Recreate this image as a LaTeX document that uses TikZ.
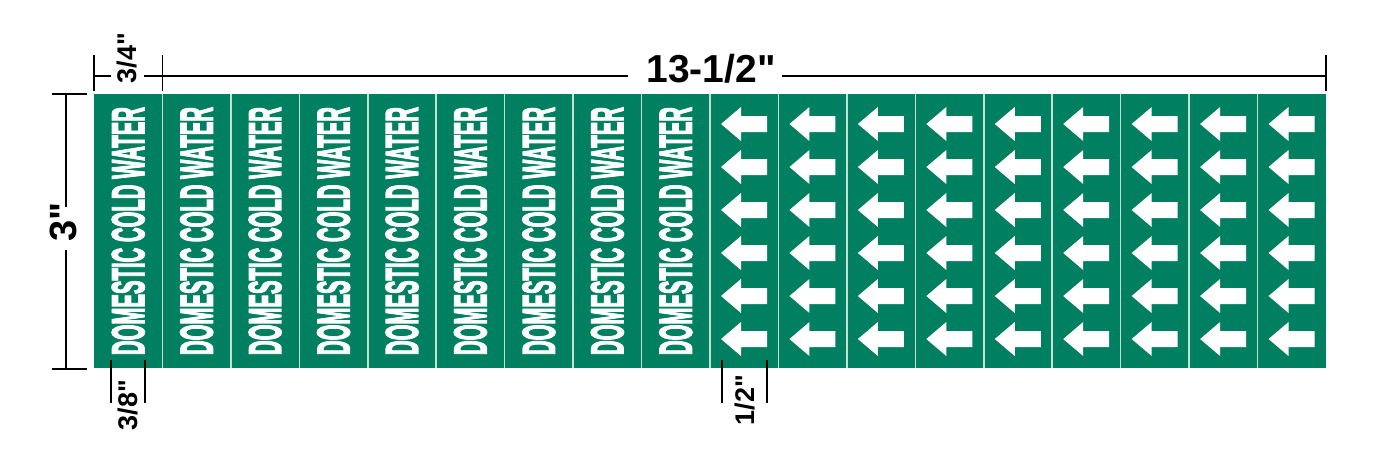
\documentclass[tikz,border=0pt]{standalone}
\usepackage{fontspec}
\setmainfont{Liberation Sans}
\newfontfamily\dimfont{Liberation Sans}
\newfontfamily\legendfont{Liberation Sans}[BoldFeatures={FakeBold=3.5}]
\newcommand{\inchmark}{\char34\relax}
\definecolor{pipegreen}{RGB}{0,128,96}
\definecolor{seam}{RGB}{196,224,213}
\begin{document}
\begin{tikzpicture}[x=1pt,y=-1pt,
  dim/.style={line width=1.8pt,black},
  dimtext/.style={inner sep=0pt,font=\dimfont\bfseries\fontsize{27}{27}\selectfont},
  legend/.style={inner sep=0pt,rotate=90,text=white},
  seamline/.style={seam,line width=1.5pt}]
\useasboundingbox (0,0) rectangle (1400,448);
% strip
\fill[pipegreen] (94,94) rectangle (1326,368);
\foreach \k in {1,...,17}{
  \draw[seamline] ({94+68.444*\k},94) -- ({94+68.444*\k},368);
}
% legend panels
\foreach \k in {0,...,8}{
  \node[legend] (legend\k) at ({94+68.444*(\k+0.5)},231)
    {\resizebox{248pt}{32pt}{\legendfont\bfseries DOMESTIC COLD WATER}};
}
% arrow panels
\foreach \k in {9,...,17}{
  \foreach \j in {0,...,5}{
    \pgfmathsetmacro{\xo}{94+68.444*\k}
    \pgfmathsetmacro{\yo}{124+43*\j}
    \fill[white] (\xo+11,\yo) -- (\xo+31,\yo-17) -- (\xo+31,\yo-8) -- (\xo+57,\yo-8)
      -- (\xo+57,\yo+8) -- (\xo+31,\yo+8) -- (\xo+31,\yo+17) -- cycle;
  }
}
% top dimension 13-1/2"
\node[inner sep=0pt,font=\dimfont\bfseries\fontsize{39}{39}\selectfont] (total) at (711,69) {13-1/2\inchmark};
\coordinate (tA) at (94,76);
\coordinate (tB) at (162.4,76);
\coordinate (tC) at (1326,76);
\draw[dim] (94,55) -- (94,91);
\draw[dim] (162.4,55) -- (162.4,91);
\draw[dim] (1326,55) -- (1326,91);
\draw[dim] (tB) -- (628,76);
\draw[dim] (782,76) -- (tC);
% 3/4"
\node[dimtext,rotate=90] (quarter) at (127,58) {3/4\inchmark};
\draw[dim] (tA) -- (111,76);
\draw[dim] (144,76) -- (tB);
% 3"
\node[inner sep=0pt,rotate=90,font=\dimfont\bfseries\fontsize{38}{38}\selectfont] (height) at (63.5,222) {3\inchmark};
\draw[dim] (52,94) -- (87,94);
\draw[dim] (52,369) -- (87,369);
\draw[dim] (66,94) -- (66,207);
\draw[dim] (66,250) -- (66,369);
% 3/8"
\node[dimtext,rotate=90] (eighth) at (128,405) {3/8\inchmark};
\draw[dim] (111,360) -- (111,403);
\draw[dim] (145,360) -- (145,403);
% 1/2"
\node[dimtext,rotate=90] (half) at (745,400) {1/2\inchmark};
\draw[dim] (722,360) -- (722,403);
\draw[dim] (767,360) -- (767,403);
\end{tikzpicture}
\end{document}
